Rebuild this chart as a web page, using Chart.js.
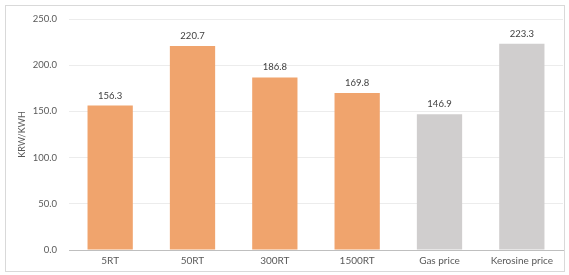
<!DOCTYPE html>
<html>
<head>
<meta charset="utf-8">
<script src="https://cdn.jsdelivr.net/npm/chart.js@4/dist/chart.umd.min.js"></script>
<style>
  html,body{margin:0;padding:0;background:#fff;}
  #wrap{position:absolute;left:5px;top:5px;width:558px;height:265px;border:1px solid #d9d9d9;}
</style>
</head>
<body>
<div id="wrap"><canvas id="c"></canvas></div>
<script>
// ---------- data ----------
const CATS = ["5RT","50RT","300RT","1500RT","Gas price","Kerosine price"];
const VALUES = [156.3,220.7,186.8,169.8,146.9,223.3];
const BAR_COLORS = ["#f0a46d","#f0a46d","#f0a46d","#f0a46d","#d0cece","#d0cece"];
const Y_TITLE = "KRW/KWH";
const Y_MIN = 0, Y_MAX = 250, Y_STEP = 50;

const FONT = "Lato";
const TXT = "#595959";

// value labels above bars
const valueLabels = {
  id:"valueLabels",
  afterDatasetsDraw(chart){
    const ctx=chart.ctx;
    const meta=chart.getDatasetMeta(0);
    ctx.save();
    ctx.font="9.5px "+FONT;
    ctx.fillStyle="#404040";
    ctx.textAlign="center";
    ctx.textBaseline="alphabetic";
    meta.data.forEach((bar,i)=>{
      ctx.fillText(VALUES[i].toFixed(1),bar.x,bar.y-7);
    });
    ctx.restore();
  }
};

new Chart(document.getElementById("c"),{
  type:"bar",
  data:{labels:CATS,datasets:[{data:VALUES,backgroundColor:BAR_COLORS,
    borderWidth:0,categoryPercentage:1,barPercentage:0.55}]},
  options:{
    responsive:true,maintainAspectRatio:false,animation:false,
    layout:{padding:{left:6,top:13,right:1,bottom:0}},
    plugins:{legend:{display:false},tooltip:{enabled:false}},
    scales:{
      x:{
        grid:{display:false,drawTicks:false},
        border:{color:"#bfbfbf"},
        ticks:{color:TXT,font:{family:FONT,size:10},padding:5,maxRotation:0},
        afterFit(s){s.height=21;}
      },
      y:{
        min:Y_MIN,max:Y_MAX,
        grid:{color:"#ececec",drawTicks:false},
        border:{display:false},
        ticks:{stepSize:Y_STEP,color:TXT,font:{family:FONT,size:9.5},padding:12,
          callback:v=>v.toFixed(1)},
        title:{display:true,text:Y_TITLE,color:TXT,font:{family:FONT,size:9},padding:{top:5,bottom:0}},
        afterFit(s){s.width=57;s.paddingTop=0;s.paddingBottom=0;}
      }
    }
  },
  plugins:[valueLabels]
});
</script>
</body>
</html>
